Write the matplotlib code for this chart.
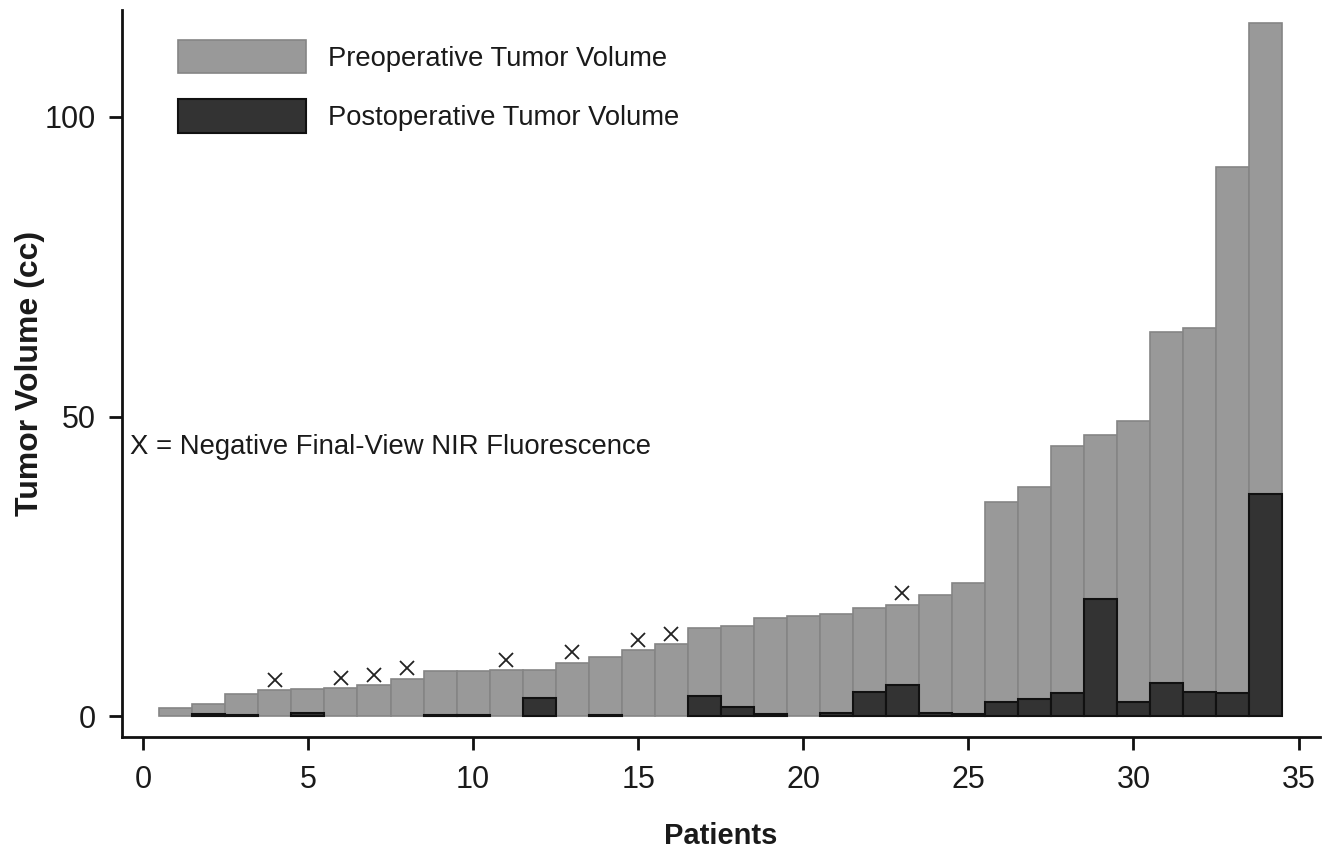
import matplotlib.pyplot as plt
import numpy as np

plt.rcParams['font.family'] = ['Liberation Sans', 'DejaVu Sans']

# patients sorted by preoperative volume
patients = np.arange(1, 35)
pre_volume = [1.3, 2.0, 3.7, 4.3, 4.5, 4.7, 5.2, 6.2, 7.5, 7.5,
              7.7, 7.7, 8.8, 9.9, 11.0, 12.1, 14.7, 15.0, 16.4, 16.7,
              17.0, 18.1, 18.6, 20.2, 22.2, 35.8, 38.2, 45.1, 47.0, 49.3,
              64.1, 64.8, 91.7, 115.6]
post_volume = [0.0, 0.4, 0.2, 0.0, 0.6, 0.0, 0.0, 0.0, 0.2, 0.2,
               0.0, 3.1, 0.0, 0.2, 0.0, 0.0, 3.4, 1.55, 0.45, 0.0,
               0.6, 4.0, 5.2, 0.6, 0.45, 2.4, 2.8, 3.9, 19.5, 2.4,
               5.6, 4.0, 3.8, 37.0]

# negative final-view NIR fluorescence
neg_patients = [4, 6, 7, 8, 11, 13, 15, 16, 23]
neg_marker_y = [6.0, 6.4, 6.8, 8.0, 9.4, 10.7, 12.8, 13.8, 20.5]

grey = '#999999'
dark = '#333333'
txt = '#1a1a1a'

fig = plt.figure(figsize=(13.33, 8.48), dpi=100)
ax = fig.add_axes([0.0913, 0.131, 0.899, 0.857])

b1 = ax.bar(patients, pre_volume, width=1.0, color=grey, edgecolor='#858585',
            linewidth=1.2, label='Preoperative Tumor Volume', zorder=2)
post_arr = np.array(post_volume)
mask = post_arr > 0
b2 = ax.bar(patients[mask], post_arr[mask], width=1.0, color=dark,
            edgecolor='#111111', linewidth=1.5,
            label='Postoperative Tumor Volume', zorder=3)

ax.plot(neg_patients, neg_marker_y, 'x', color='#222222', markersize=10.5,
        markeredgewidth=1.3, zorder=4)

ax.text(-0.4, 45.0, 'X = Negative Final-View NIR Fluorescence',
        fontsize=19.8, color=txt, ha='left', va='center')

ax.set_xlim(-0.64, 35.65)
ax.set_ylim(-3.45, 117.8)
ax.set_xticks([0, 5, 10, 15, 20, 25, 30, 35])
ax.set_yticks([0, 50, 100])

for side in ['top', 'right']:
    ax.spines[side].set_visible(False)
for side in ['left', 'bottom']:
    ax.spines[side].set_linewidth(2.0)
    ax.spines[side].set_color('#111111')

ax.tick_params(axis='both', labelsize=22, width=2.0, length=9.5,
               colors='#111111', labelcolor=txt)
ax.tick_params(axis='x', pad=11)
ax.tick_params(axis='y', pad=9)

ax.set_xlabel('Patients', fontsize=21, fontweight='bold', color=txt,
              labelpad=19)
ax.set_ylabel('Tumor Volume (cc)', fontsize=23, fontweight='bold',
              color=txt, labelpad=0)

leg = ax.legend(handles=[b1, b2], loc='upper left',
                bbox_to_anchor=(178 / 1333, 1 - 40 / 848),
                bbox_transform=fig.transFigure, frameon=False,
                fontsize=19.7, handlelength=4.67, handleheight=1.5,
                handletextpad=0.8, labelspacing=0.95, borderpad=0,
                borderaxespad=0)
for t in leg.get_texts():
    t.set_color(txt)

fig.savefig('out.png', dpi=100)
